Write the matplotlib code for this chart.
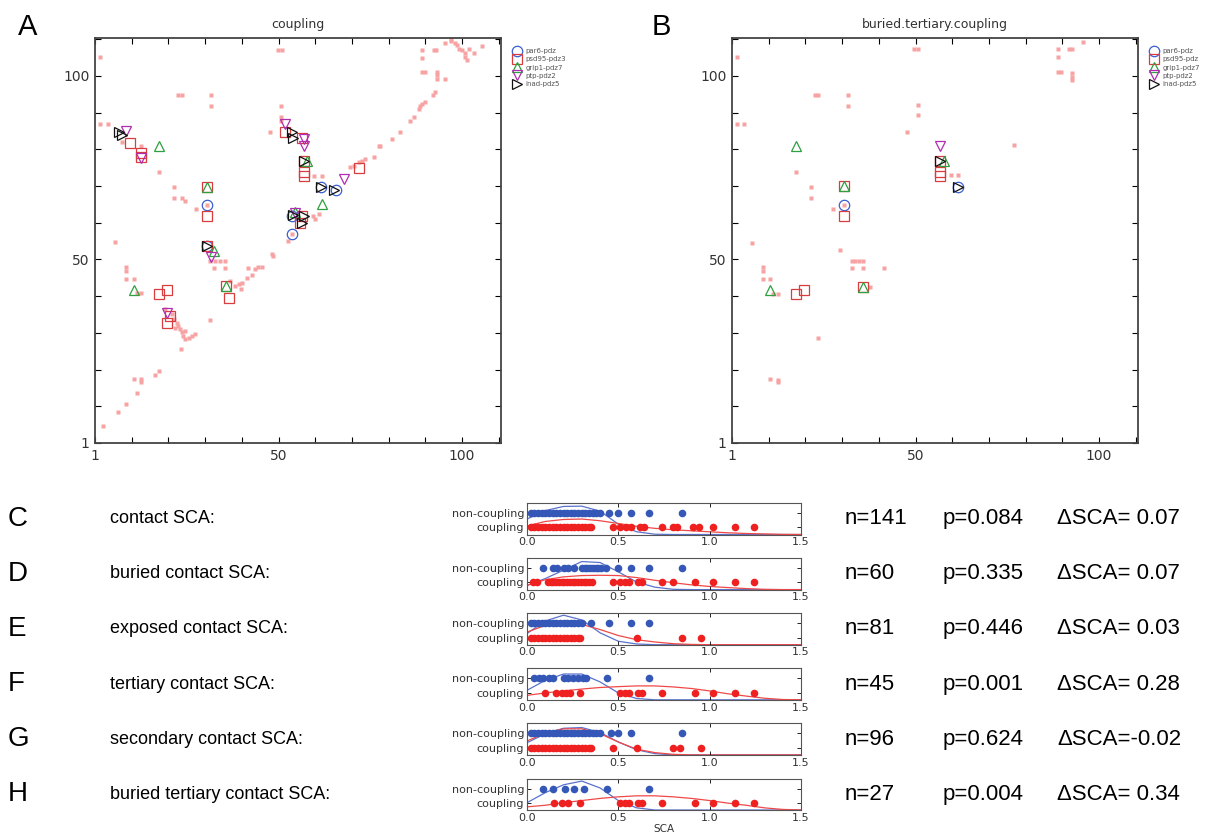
import numpy as np
import matplotlib
matplotlib.use('Agg')
import matplotlib.pyplot as plt

# =====================================================================
# DATA: contact maps (A = coupling, B = buried.tertiary.coupling)
# =====================================================================
a_bg_x = [2.3, 6.4, 8.4, 11.4, 10.5, 12.5, 12.5, 16.4, 17.5,
          19.1, 20.9, 21.4, 22.3, 21.8, 23.2, 23.6, 24.1, 24.5, 25.5, 26.4, 27.3, 23.5, 22.5, 24.5,
          5.5, 8.4, 8.4, 8.4, 10.5, 11.4, 12.5, 31.4,
          31.4, 32.7, 34.1, 35.5, 32.5, 35.5, 41.6, 36.8, 38.2, 39.1, 40.0, 39.7, 41.4, 42.7,
          43.6, 44.5, 45.5, 48.2, 48.6, 52.7, 60.0, 60.9, 59.5,
          69.5, 70.5, 71.8, 72.7, 73.6, 75.9, 77.3, 77.7, 80.9, 83.0, 85.9, 86.8, 88.2, 88.6,
          89.1, 89.8, 92.0, 92.5, 93.2, 93.2, 93.2, 89.1, 90.0, 95.3, 89.1, 89.1, 92.3, 92.9,
          95.3, 97.1, 98.0, 98.6, 99.1, 100.0, 100.9, 100.9, 101.4, 101.8, 103.2, 105.5, 97.1,
          1.4, 1.4, 3.6, 7.3, 12.5, 17.5, 21.5, 21.5, 23.8, 24.5, 27.5, 22.7, 23.6, 31.6, 31.6,
          49.8, 50.9, 50.7, 50.7, 50.7, 47.7, 59.7, 61.8, 30.6, 53.8]
a_bg_y = [4.5, 8.5, 10.5, 13.5, 17.5, 17.5, 16.6, 18.5, 19.6,
          36.5, 35.1, 33.7, 32.7, 31.4, 31.0, 30.1, 29.2, 28.3, 28.7, 29.2, 29.6, 25.5, 31.8, 30.5,
          54.8, 47.8, 46.9, 44.6, 44.6, 40.8, 40.8, 33.5,
          49.6, 49.6, 49.6, 49.6, 47.6, 47.6, 47.6, 44.2, 42.8, 43.2, 43.5, 42.0, 44.9, 45.7,
          47.4, 47.8, 47.8, 51.5, 50.8, 55.1, 61.1, 62.4, 61.8,
          75.1, 75.5, 76.5, 76.9, 77.4, 77.8, 81.0, 81.0, 82.8, 84.6, 87.8, 88.7, 91.0, 91.9,
          92.4, 92.8, 94.8, 95.7, 101.0, 100.1, 99.2, 101.0, 101.0, 99.2, 106.9, 104.8, 106.9, 106.9,
          109.0, 109.6, 109.0, 108.3, 107.4, 106.9, 106.1, 105.2, 104.3, 107.4, 106.1, 108.1, 110.1,
          105.1, 86.9, 86.9, 81.9, 81.0, 73.7, 69.8, 66.7, 66.7, 65.8, 63.7, 94.9, 94.9, 94.9, 91.9,
          107.1, 107.1, 91.9, 88.7, 87.8, 84.8, 72.8, 72.8, 64.7, 56.8]

b_bg_x = [1.3, 1.3, 3.3, 22.6, 23.5, 31.5, 31.5, 47.6, 17.5, 21.5, 21.5, 27.5, 5.4,
          8.4, 8.4, 8.4, 10.4, 11.3, 12.4, 29.5, 32.6, 33.5, 34.5, 35.6, 32.6, 35.6, 41.5,
          37.5, 23.4, 10.4, 12.5, 12.5, 49.7, 50.7, 50.7, 50.7, 76.7, 88.7, 88.7, 91.7, 92.7,
          95.7, 88.7, 89.7, 92.7, 92.7, 92.7, 59.7, 61.7, 30.5]
b_bg_y = [105.1, 86.9, 86.9, 94.9, 94.9, 94.9, 91.9, 84.8, 73.7, 69.8, 66.7, 63.7, 54.6,
          47.8, 46.9, 44.6, 44.6, 40.5, 40.5, 52.6, 49.6, 49.6, 49.6, 49.6, 47.6, 47.6, 47.6,
          42.6, 28.5, 17.5, 17.2, 16.5, 107.3, 107.3, 92.0, 89.2, 81.1, 107.3, 105.0, 107.3, 107.3,
          109.1, 101.1, 101.1, 100.9, 99.8, 98.9, 72.9, 72.9, 64.8]

domains = ['par6-pdz', 'psd95-pdz3', 'grip1-pdz7', 'ptp-pdz2', 'inad-pdz5']
domains_b = ['par6-pdz', 'psd95-pdz', 'grip1-pdz7', 'ptp-pdz2', 'inad-pdz5']

a_pairs = {
    'par6-pdz': ([30.6, 30.5, 53.6, 53.8, 61.6, 65.7],
                 [64.7, 53.6, 61.8, 56.8, 69.8, 68.9]),
    'psd95-pdz3': ([9.4, 12.5, 12.5, 30.6, 30.6, 30.5, 35.7, 36.6, 17.5, 19.5, 20.5, 19.5,
                    51.8, 56.4, 56.8, 56.8, 56.8, 56.4, 55.9, 71.8],
                   [81.8, 78.9, 78.0, 69.8, 61.8, 53.6, 42.7, 39.5, 40.7, 41.6, 34.5, 32.7,
                    84.8, 83.2, 76.8, 73.8, 72.7, 61.8, 59.8, 75.0]),
    'grip1-pdz7': ([17.5, 30.6, 32.3, 35.7, 10.5, 57.7, 61.8, 54.5],
                   [80.9, 69.8, 52.3, 42.7, 41.8, 76.8, 65.0, 62.9]),
    'ptp-pdz2': ([8.5, 12.5, 31.5, 19.5, 51.8, 56.8, 56.8, 54.5, 67.7],
                 [85.0, 77.7, 50.7, 35.5, 86.8, 82.7, 80.9, 62.7, 71.8]),
    'inad-pdz5': ([6.5, 7.3, 30.5, 53.6, 53.9, 56.8, 61.6, 65.0, 53.9, 56.8, 56.4],
                  [84.8, 84.0, 53.6, 84.8, 83.2, 76.8, 69.8, 68.9, 62.0, 61.8, 59.8]),
}
b_pairs = {
    'par6-pdz': ([30.5, 61.7], [64.8, 69.8]),
    'psd95-pdz': ([30.5, 30.5, 56.7, 56.7, 56.7, 17.5, 19.5, 35.6],
                  [69.9, 61.7, 76.8, 73.8, 72.7, 40.5, 41.6, 42.6]),
    'grip1-pdz7': ([17.5, 30.5, 57.7, 10.4, 35.6], [80.8, 69.9, 76.8, 41.7, 42.6]),
    'ptp-pdz2': ([56.7], [80.9]),
    'inad-pdz5': ([56.7, 61.7], [76.8, 69.8]),
}

# =====================================================================
# DATA: SCA strip plots (C-H)
# =====================================================================
row_letters = ['C', 'D', 'E', 'F', 'G', 'H']
row_names = ['contact SCA:', 'buried contact SCA:', 'exposed contact SCA:',
             'tertiary contact SCA:', 'secondary contact SCA:', 'buried tertiary contact SCA:']
row_n = ['n=141', 'n=60', 'n=81', 'n=45', 'n=96', 'n=27']
row_p = ['p=0.084', 'p=0.335', 'p=0.446', 'p=0.001', 'p=0.624', 'p=0.004']
row_dsca = ['\u0394SCA= 0.07', '\u0394SCA= 0.07', '\u0394SCA= 0.03',
            '\u0394SCA= 0.28', '\u0394SCA=-0.02', '\u0394SCA= 0.34']

noncoupling_sca = [
    [0.02, 0.04, 0.06, 0.08, 0.10, 0.12, 0.14, 0.16, 0.18, 0.20, 0.22, 0.24, 0.26, 0.28,
     0.30, 0.32, 0.34, 0.36, 0.38, 0.40, 0.45, 0.50, 0.57, 0.67, 0.85],
    [0.085, 0.14, 0.165, 0.20, 0.225, 0.26, 0.30, 0.315, 0.33, 0.345, 0.36, 0.375, 0.39,
     0.405, 0.435, 0.50, 0.57, 0.67, 0.85],
    [0.02, 0.04, 0.06, 0.08, 0.10, 0.12, 0.14, 0.16, 0.18, 0.20, 0.22, 0.24, 0.26, 0.28,
     0.30, 0.35, 0.45, 0.57, 0.67],
    [0.04, 0.065, 0.09, 0.12, 0.14, 0.20, 0.225, 0.25, 0.28, 0.305, 0.325, 0.44, 0.67],
    [0.02, 0.04, 0.06, 0.08, 0.10, 0.12, 0.14, 0.16, 0.18, 0.20, 0.22, 0.24, 0.26, 0.28,
     0.30, 0.32, 0.34, 0.36, 0.38, 0.40, 0.46, 0.50, 0.57, 0.85],
    [0.085, 0.14, 0.21, 0.255, 0.31, 0.44, 0.67],
]
coupling_sca = [
    [0.02, 0.04, 0.06, 0.08, 0.10, 0.12, 0.14, 0.16, 0.18, 0.20, 0.22, 0.24, 0.26, 0.28,
     0.30, 0.32, 0.34, 0.35, 0.47, 0.51, 0.54, 0.57, 0.62, 0.64, 0.74, 0.80, 0.82, 0.91,
     0.94, 1.02, 1.14, 1.24],
    [0.035, 0.055, 0.115, 0.13, 0.145, 0.16, 0.175, 0.19, 0.205, 0.22, 0.235, 0.25, 0.265,
     0.28, 0.295, 0.31, 0.325, 0.34, 0.355, 0.47, 0.51, 0.535, 0.56, 0.61, 0.63, 0.74, 0.80,
     0.92, 1.02, 1.14, 1.24],
    [0.02, 0.04, 0.06, 0.08, 0.10, 0.12, 0.14, 0.16, 0.18, 0.20, 0.22, 0.24, 0.26, 0.28,
     0.29, 0.60, 0.85, 0.95],
    [0.10, 0.16, 0.19, 0.215, 0.235, 0.29, 0.51, 0.535, 0.56, 0.61, 0.63, 0.74, 0.92, 1.02,
     1.14, 1.24],
    [0.02, 0.04, 0.06, 0.08, 0.10, 0.12, 0.14, 0.16, 0.18, 0.20, 0.22, 0.24, 0.26, 0.28,
     0.30, 0.32, 0.34, 0.35, 0.47, 0.60, 0.80, 0.84, 0.95],
    [0.15, 0.19, 0.225, 0.29, 0.51, 0.535, 0.56, 0.61, 0.63, 0.74, 0.92, 1.02, 1.14, 1.24],
]

# density curves at these SCA values
curve_sca = [0.0, 0.1, 0.2, 0.3, 0.4, 0.5, 0.6, 0.7, 0.8, 0.9, 1.0, 1.1, 1.2, 1.3, 1.4, 1.5]
noncoupling_density = [
    [1.08, 1.67, 1.96, 1.98, 1.63, 0.72, 0.19, 0.02, 0, 0, 0, 0, 0, 0, 0, 0],
    [0.29, 0.77, 1.36, 1.96, 1.89, 1.24, 0.53, 0.17, 0.02, 0, 0, 0, 0, 0, 0, 0],
    [0.78, 1.66, 2.06, 1.73, 0.83, 0.24, 0.05, 0, 0, 0, 0, 0, 0, 0, 0, 0],
    [0.66, 1.36, 1.80, 1.80, 1.25, 0.48, 0.09, 0, 0, 0, 0, 0, 0, 0, 0, 0],
    [0.85, 1.48, 1.86, 1.91, 1.57, 0.90, 0.36, 0.09, 0, 0, 0, 0, 0, 0, 0, 0],
    [0.51, 1.21, 1.76, 2.02, 1.54, 0.66, 0.15, 0, 0, 0, 0, 0, 0, 0, 0, 0],
]
coupling_density = [
    [0.60, 0.91, 1.05, 1.08, 0.96, 0.77, 0.57, 0.43, 0.33, 0.26, 0.19, 0.12, 0.07, 0.04, 0.01, 0],
    [0.29, 0.69, 0.89, 0.98, 1.00, 0.98, 0.84, 0.65, 0.48, 0.33, 0.22, 0.14, 0.07, 0.02, 0, 0],
    [0.88, 1.35, 1.54, 1.42, 1.06, 0.64, 0.35, 0.19, 0.07, 0.02, 0, 0, 0, 0, 0, 0],
    [0.31, 0.48, 0.62, 0.75, 0.86, 0.92, 0.97, 0.97, 0.90, 0.79, 0.62, 0.42, 0.26, 0.11, 0.02, 0],
    [0.97, 1.53, 1.82, 1.82, 1.48, 0.90, 0.40, 0.16, 0.04, 0, 0, 0, 0, 0, 0, 0],
    [0.22, 0.33, 0.51, 0.66, 0.81, 0.92, 0.99, 0.99, 0.92, 0.81, 0.66, 0.48, 0.33, 0.15, 0.04, 0],
]

# =====================================================================
# FIGURE
# =====================================================================
W, H = 1218, 835
fig = plt.figure(figsize=(W / 100, H / 100), dpi=100)
LETTER_FONT = ['Liberation Sans', 'DejaVu Sans']


def px_axes(left, top, width, height):
    return fig.add_axes([left / W, 1 - (top + height) / H, width / W, height / H])


styles = [('o', '#3a5fd0'), ('s', '#d83c3c'), ('^', '#2ea040'), ('v', '#b02cb0'), ('>', '#111111')]


def draw_map(ax, bg_x, bg_y, pairs, names, title):
    ax.plot(bg_x, bg_y, 's', color='#f7a3a3', ms=2.8, mec='none', zorder=1)
    for name, (mk, col) in zip(names, styles):
        px, py = pairs[name]
        ax.plot(px, py, mk, mfc='none', mec=col, ms=7.5, mew=0.9, ls='none',
                label=name, zorder=3)
    ax.set_xlim(0, 110.6)
    ax.set_ylim(0, 110.3)
    ticks = list(range(0, 111, 10))
    labels = ['1', '', '', '', '', '50', '', '', '', '', '100', '']
    ax.set_xticks(ticks)
    ax.set_xticklabels(labels)
    ax.set_yticks(ticks)
    ax.set_yticklabels(labels)
    ax.tick_params(direction='in', top=True, right=True, length=4, width=0.8,
                   labelsize=10, labelcolor='#333333', pad=4)
    for sp in ax.spines.values():
        sp.set_linewidth(1.3)
        sp.set_color('#444444')
    ax.set_title(title, fontsize=9, color='#333333', pad=7)
    leg = ax.legend(loc='upper left', bbox_to_anchor=(1.03, 0.975), frameon=False,
                    fontsize=5, handlelength=1.0, handletextpad=0.8,
                    labelspacing=0.32, borderaxespad=0, borderpad=0)
    for t in leg.get_texts():
        t.set_color('#555555')


ax_a = px_axes(95, 38, 406, 405)
draw_map(ax_a, a_bg_x, a_bg_y, a_pairs, domains, 'coupling')
ax_b = px_axes(732, 38, 406, 405)
draw_map(ax_b, b_bg_x, b_bg_y, b_pairs, domains_b, 'buried.tertiary.coupling')

fig.text(18 / W, 1 - 27 / H, 'A', fontsize=21, family=LETTER_FONT, va='center')
fig.text(652 / W, 1 - 27 / H, 'B', fontsize=21, family=LETTER_FONT, va='center')

# strip plots
for i in range(6):
    top = 503 + i * 55.1
    ax = px_axes(527, top, 274, 31.5)
    ax.plot(curve_sca, noncoupling_density[i], color='#5a72cc', lw=0.9, zorder=1)
    ax.plot(curve_sca, coupling_density[i], color='#f04848', lw=0.9, zorder=1)
    ax.scatter(noncoupling_sca[i], [1.5] * len(noncoupling_sca[i]), s=30,
               color='#3557b7', linewidths=0, zorder=2, clip_on=False)
    ax.scatter(coupling_sca[i], [0.5] * len(coupling_sca[i]), s=30,
               color='#ee2020', linewidths=0, zorder=2, clip_on=False)
    ax.set_xlim(0, 1.5)
    ax.set_ylim(0, 2.2)
    ax.set_xticks([0.0, 0.5, 1.0, 1.5])
    ax.set_xticklabels(['0.0', '0.5', '1.0', '1.5'])
    ax.set_yticks([0.5, 1.5])
    ax.set_yticklabels(['coupling', 'non-coupling'])
    ax.tick_params(direction='in', top=True, right=True, length=3, width=0.6,
                   labelsize=8, labelcolor='#333333', pad=2)
    for sp in ax.spines.values():
        sp.set_linewidth(0.8)
        sp.set_color('#555555')
    if i == 5:
        ax.set_xlabel('SCA', fontsize=7.5, color='#333333', labelpad=1)

    yc = 1 - (top + 15.75) / H
    fig.text(8 / W, yc, row_letters[i], fontsize=20, family=LETTER_FONT, va='center')
    fig.text(110 / W, yc, row_names[i], fontsize=13, family=LETTER_FONT, va='center')
    fig.text(845 / W, yc, row_n[i], fontsize=16, family=LETTER_FONT, va='center')
    fig.text(943 / W, yc, row_p[i], fontsize=16, family=LETTER_FONT, va='center')
    fig.text(1057 / W, yc, row_dsca[i], fontsize=16, family=LETTER_FONT, va='center')

fig.savefig('out.png', dpi=100)
